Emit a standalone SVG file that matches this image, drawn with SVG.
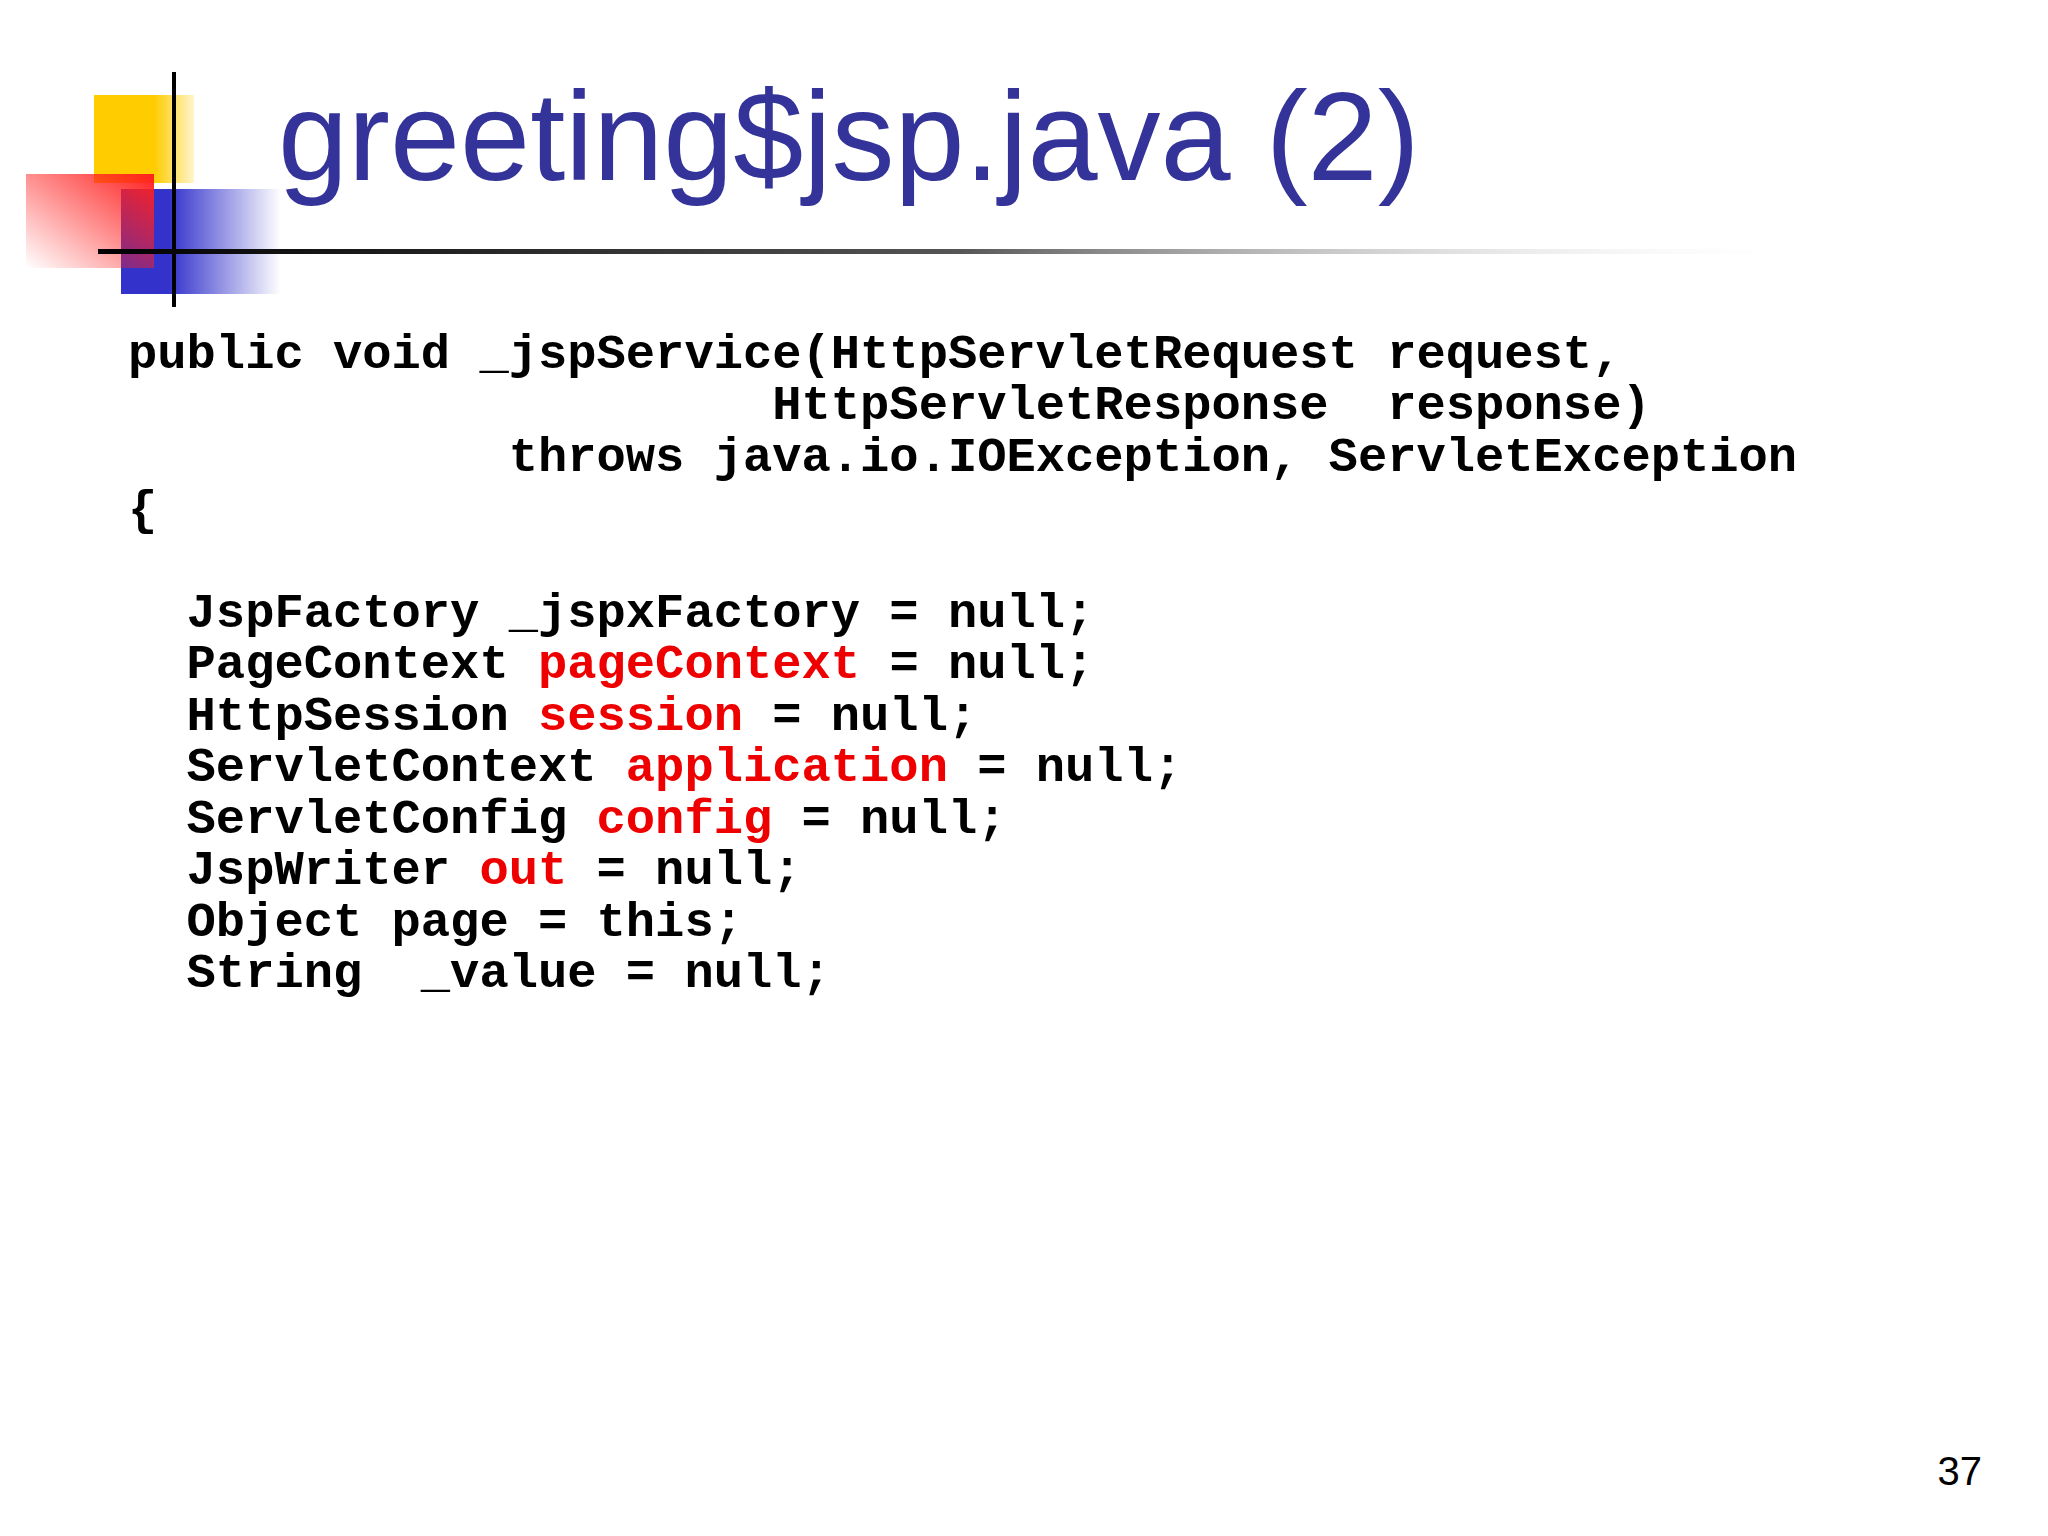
<svg xmlns="http://www.w3.org/2000/svg" width="2048" height="1536" viewBox="0 0 2048 1536">
<defs>
<linearGradient id="red" x1="1" y1="0" x2="0" y2="1"><stop offset="0" stop-color="#ff2020"/><stop offset="1" stop-color="#ff2020" stop-opacity="0"/></linearGradient>
<linearGradient id="blue" x1="0" y1="0" x2="1" y2="0"><stop offset="0.3" stop-color="#3333cc"/><stop offset="1" stop-color="#3333cc" stop-opacity="0"/></linearGradient>
<linearGradient id="yel" x1="0" y1="0" x2="1" y2="0"><stop offset="0.6" stop-color="#ffcc00"/><stop offset="1" stop-color="#ffcc00" stop-opacity="0.2"/></linearGradient>
<linearGradient id="line" x1="0" y1="0" x2="1" y2="0"><stop offset="0" stop-color="#000"/><stop offset="0.5" stop-color="#555"/><stop offset="1" stop-color="#fff" stop-opacity="0"/></linearGradient>
<style>
.code{font-family:"Liberation Mono","Courier New",monospace;font-weight:bold;font-size:48.8px;fill:#000;white-space:pre}
.r{fill:#ee0000}
</style>
</defs>
<rect width="2048" height="1536" fill="#fff"/>
<g id="logo">
<rect x="94" y="95" width="100" height="88" fill="url(#yel)"/>
<rect x="121" y="189" width="160" height="105" fill="url(#blue)"/>
<rect x="26" y="174" width="128" height="94" fill="url(#red)"/>
<rect x="172" y="72" width="4" height="235" fill="#000"/>
<rect x="98" y="249" width="1720" height="5" fill="url(#line)"/>
</g>
<text id="title" x="278" y="180" font-family="Liberation Sans,Arial,sans-serif" font-size="126" fill="#333399">greeting$jsp.java (2)</text>
<g id="code">
<text class="code" xml:space="preserve" x="128" y="368">public void _jspService(HttpServletRequest request,</text>
<text class="code" xml:space="preserve" x="128" y="419">                      HttpServletResponse  response)</text>
<text class="code" xml:space="preserve" x="128" y="471">             throws java.io.IOException, ServletException</text>
<text class="code" xml:space="preserve" x="128" y="524">{</text>
<text class="code" xml:space="preserve" x="128" y="627">  JspFactory _jspxFactory = null;</text>
<text class="code" xml:space="preserve" x="128" y="678">  PageContext <tspan class="r">pageContext</tspan> = null;</text>
<text class="code" xml:space="preserve" x="128" y="730">  HttpSession <tspan class="r">session</tspan> = null;</text>
<text class="code" xml:space="preserve" x="128" y="781">  ServletContext <tspan class="r">application</tspan> = null;</text>
<text class="code" xml:space="preserve" x="128" y="833">  ServletConfig <tspan class="r">config</tspan> = null;</text>
<text class="code" xml:space="preserve" x="128" y="884">  JspWriter <tspan class="r">out</tspan> = null;</text>
<text class="code" xml:space="preserve" x="128" y="936">  Object page = this;</text>
<text class="code" xml:space="preserve" x="128" y="987">  String  _value = null;</text>
</g>
<text id="pagenum" x="1982" y="1485" text-anchor="end" font-family="Liberation Sans,Arial,sans-serif" font-size="40" fill="#000">37</text>
</svg>
